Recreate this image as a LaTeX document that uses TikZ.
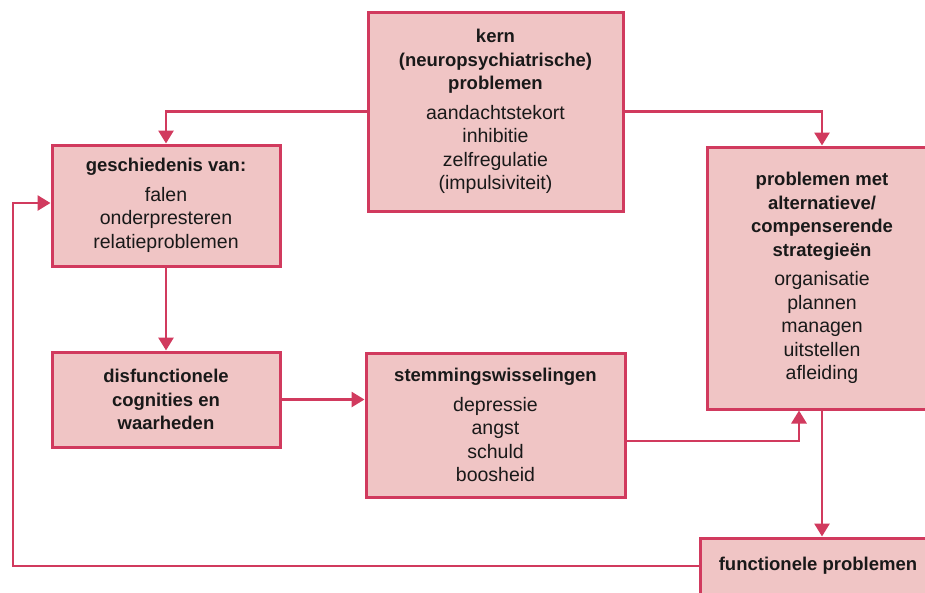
\documentclass[tikz,border=0pt]{standalone}
\usepackage{fontspec}
\setmainfont{Liberation Sans}
\usetikzlibrary{arrows.meta}

\definecolor{rim}{HTML}{D13A5E}
\definecolor{boxfill}{HTML}{F0C5C5}
\newcommand{\ttl}[1]{{\fontsize{18.5}{23.5}\selectfont\bfseries #1}}

\begin{document}
\begin{tikzpicture}[x=1pt, y=-1pt, -{Triangle[length=13pt,width=15pt]}, line width=2.8pt, draw=rim, rim,
    box/.style={rectangle, draw=rim, fill=boxfill, line width=3pt, align=center, text=black!90,
        inner sep=0pt, font=\fontsize{19.5}{23.5}\selectfont}]
        \clip (0,0) rectangle (925,592);

        \node[box, minimum width=255pt, minimum height=199pt] (kern) at (495.5,111.5)
            {\ttl{kern}\\ \ttl{(neuropsychiatrische)}\\ \ttl{problemen}\\[6pt]
             aandachtstekort\\ inhibitie\\ zelfregulatie\\ (impulsiviteit)};
        \node[box, minimum width=228pt, minimum height=121pt] (gesch) at (166,205.5)
            {\ttl{geschiedenis van:}\\[6pt] falen\\ onderpresteren\\ relatieproblemen};
        \node[box, minimum width=228pt, minimum height=95pt] (disf) at (166,399.5)
            {\ttl{disfunctionele}\\ \ttl{cognities en}\\ \ttl{waarheden}};
        \node[box, minimum width=259pt, minimum height=144pt] (stem) at (495.5,425)
            {\ttl{stemmingswisselingen}\\[6pt] depressie\\ angst\\ schuld\\ boosheid};
        \node[box, minimum width=230pt, minimum height=262pt] (alt) at (822,278)
            {\ttl{problemen met}\\ \ttl{alternatieve/}\\ \ttl{compenserende}\\ \ttl{strategieën}\\[6pt]
             organisatie\\ plannen\\ managen\\ uitstellen\\ afleiding};
        \node[box, minimum width=236pt, minimum height=56pt] (func) at (818,566)
            {\ttl{functionele problemen}};

        \coordinate (back) at (13,203);

        \draw (kern.west) -| (gesch.north);
        \draw (kern.east) -| (alt.north);
        \draw (gesch.south) -- (disf.north);
        \draw (disf.east) -- (disf.east -| stem.west);
        \draw ([yshift=-16pt]stem.east) -| ([xshift=-23pt]alt.south);
        \draw (alt.south) -- (alt.south |- func.north);
        \draw (func.west) -| (back) -- (back -| gesch.west);

    \end{tikzpicture}
\end{document}
